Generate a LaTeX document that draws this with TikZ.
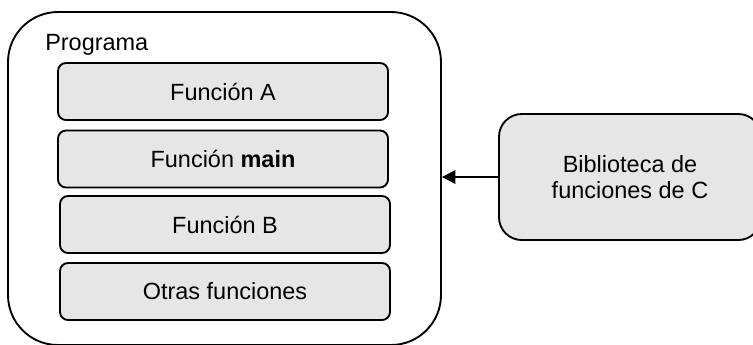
\documentclass[tikz,border=0pt]{standalone}
\usepackage{fontspec}
\setmainfont{Liberation Sans}
\usetikzlibrary{arrows.meta, positioning}
\definecolor{boxgray}{RGB}{230,230,230}

\begin{document}
\begin{tikzpicture}[x=0.75pt, y=-0.75pt, font=\fontsize{17.6}{19.5}\selectfont,
		every node/.style={inner sep=0pt},
		outerbox/.style={draw, line width=1.4pt, rounded corners=37.5pt},
		funcbox/.style={draw, line width=1.4pt, fill=boxgray, rounded corners=6pt,
			minimum width=247.5pt, minimum height=42.75pt},
		libbox/.style={draw, line width=1.4pt, fill=boxgray, rounded corners=17pt,
			minimum width=196.5pt, minimum height=94.5pt, align=center}]
		\useasboundingbox (0,0) rectangle (753,344);
		\clip (0,0) rectangle (753,344);
		
		% the program and its functions
		\node [outerbox, minimum width=324.75pt, minimum height=249.75pt] (prog) at (224.5,178.5) {};
		\node [anchor=base west] (progname) at (45,50) {Programa};
		\node [funcbox] (funA) at (223,91.5) {Función A};
		\node [funcbox] (funMain) at (223,159) {Función \textbf{main}};
		\node [funcbox] (funB) at (225,224.5) {Función B};
		\node [funcbox] (funOther) at (225,291.5) {Otras funciones};
		
		% library
		\node [libbox] (lib) at (630,177) {Biblioteca de\\funciones de C};
		\draw [-{Triangle[length=10pt, width=10pt]}, line width=1.4pt] (lib.west) -- (lib.west -| prog.east);
	\end{tikzpicture}
\end{document}
